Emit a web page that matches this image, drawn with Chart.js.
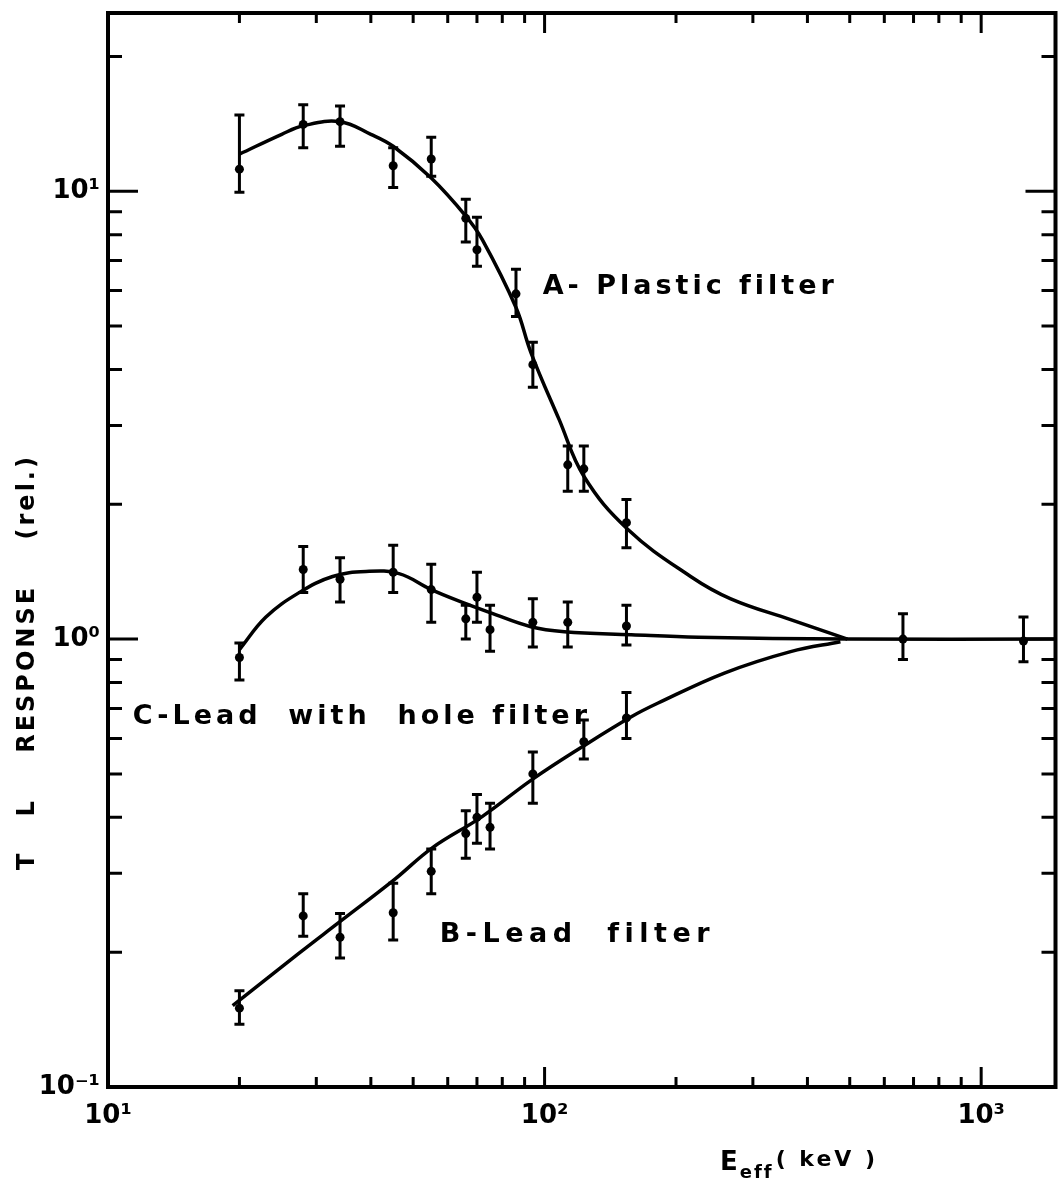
<!DOCTYPE html>
<html>
<head>
<meta charset="utf-8">
<script src="https://cdn.jsdelivr.net/npm/chart.js@4.4.1/dist/chart.umd.min.js"></script>
<style>
  html, body { margin: 0; padding: 0; background: #fff; }
  #wrap { width: 1060px; height: 1181px; position: relative; }
</style>
</head>
<body>
<div id="wrap"><canvas id="chart"></canvas></div>
<script>
// measured points, E_eff in keV, response relative
const energyA = [20, 28, 34, 45, 55, 66, 70, 86, 94, 113, 123, 154];
const respA   = [11.2, 14.1, 14.3, 11.4, 11.8, 8.7, 7.4, 5.9, 4.1, 2.45, 2.4, 1.82];
const loA     = [9.95, 12.5, 12.6, 10.2, 10.8, 7.7, 6.8, 5.25, 3.65, 2.14, 2.14, 1.6];
const hiA     = [14.8, 15.6, 15.5, 12.5, 13.2, 9.6, 8.75, 6.7, 4.6, 2.7, 2.7, 2.05];

const energyC = [20, 28, 34, 45, 55, 66, 70, 75, 94, 113, 154];
const respC   = [0.91, 1.43, 1.36, 1.41, 1.29, 1.11, 1.24, 1.05, 1.09, 1.09, 1.07];
const loC     = [0.81, 1.27, 1.21, 1.27, 1.09, 1.0, 1.09, 0.94, 0.96, 0.96, 0.97];
const hiC     = [0.98, 1.61, 1.52, 1.62, 1.47, 1.19, 1.41, 1.19, 1.23, 1.21, 1.19];

const energyB = [20, 28, 34, 45, 55, 66, 70, 75, 94, 123, 154];
const respB   = [0.150, 0.241, 0.216, 0.245, 0.303, 0.368, 0.40, 0.38, 0.50, 0.59, 0.667];
const loB     = [0.138, 0.217, 0.194, 0.213, 0.27, 0.324, 0.35, 0.34, 0.43, 0.54, 0.60];
const hiB     = [0.164, 0.27, 0.244, 0.285, 0.34, 0.414, 0.45, 0.43, 0.56, 0.66, 0.76];

// points shared by all three filters
const energyAll = [662, 1250];
const respAll   = [1.0, 0.99];
const loAll     = [0.90, 0.89];
const hiAll     = [1.14, 1.12];

// hand drawn fit curves
const curveEA = [20, 25, 28, 34, 40, 45, 55, 66, 72, 86, 93, 108, 123, 155, 216, 267, 366, 494];
const curveRA = [12.1, 13.4, 14.0, 14.3, 13.4, 12.6, 10.7, 8.8, 7.8, 5.5, 4.37, 3.09, 2.31, 1.76, 1.38, 1.23, 1.105, 1.0];
const curveEC = [20, 23, 27.4, 32.7, 39, 46.4, 55, 66, 75, 93, 111, 158, 225, 494, 1480];
const curveRC = [0.947, 1.12, 1.27, 1.38, 1.416, 1.40, 1.29, 1.20, 1.146, 1.066, 1.039, 1.023, 1.01, 1.0, 1.0];
const curveEB = [19.3, 27.4, 33.8, 45.2, 55.3, 71.8, 93.4, 122, 158, 182, 259, 366, 476];
const curveRB = [0.152, 0.199, 0.233, 0.29, 0.342, 0.401, 0.485, 0.575, 0.671, 0.72, 0.841, 0.938, 0.987];

const xTickValues = [10, 100, 1000];
const xTickLabels = ['10¹', '10²', '10³'];
const yTickValues = [0.1, 1, 10];
const yTickLabels = ['10⁻¹', '10⁰', '10¹'];

const seriesLabels = ['A- Plastic filter', 'C-Lead  with  hole filter', 'B-Lead  filter'];

function pts(xs, ys) {
  var out = [];
  for (let i = 0; i < xs.length; i++) out.push({x: xs[i], y: ys[i]});
  return out;
}

function lookup(values, labels, v) {
  for (let i = 0; i < values.length; i++) {
    if (Math.abs(values[i] - v) / values[i] < 1e-6) return labels[i];
  }
  return '';
}

function wholeTick(v) {
  var p = Math.pow(10, Math.floor(Math.log10(v) + 1e-9));
  var s = v / p;
  return Math.abs(s - Math.round(s)) < 1e-6;
}

function isDecade(v) {
  var l = Math.log10(v);
  return Math.abs(l - Math.round(l)) < 1e-6;
}

function curve(data) {
  return {
    type: 'line', data: data, borderColor: '#000', borderWidth: 3.5,
    pointRadius: 0, tension: 0.4, fill: false
  };
}

function dots(data) {
  return {
    type: 'scatter', data: data, backgroundColor: '#000', borderWidth: 0, pointRadius: 4.5
  };
}

// error bars drawn through the chart scales
const errorBars = {
  id: 'errorBars',
  afterDatasetsDraw(chart) {
    const ctx = chart.ctx, xs = chart.scales.x, ys = chart.scales.y;
    const groups = [[energyA, loA, hiA], [energyC, loC, hiC], [energyB, loB, hiB], [energyAll, loAll, hiAll]];
    ctx.save();
    ctx.strokeStyle = '#000';
    ctx.lineWidth = 3;
    groups.forEach(g => {
      for (let i = 0; i < g[0].length; i++) {
        const x = xs.getPixelForValue(g[0][i]);
        const y1 = ys.getPixelForValue(g[1][i]);
        const y2 = ys.getPixelForValue(g[2][i]);
        ctx.beginPath();
        ctx.moveTo(x, y1); ctx.lineTo(x, y2);
        ctx.moveTo(x - 5, y1); ctx.lineTo(x + 5, y1);
        ctx.moveTo(x - 5, y2); ctx.lineTo(x + 5, y2);
        ctx.stroke();
      }
    });
    ctx.restore();
  }
};

// frame, inward ticks and the text on the plot
const decorations = {
  id: 'decorations',
  afterDraw(chart) {
    const ctx = chart.ctx, a = chart.chartArea, xs = chart.scales.x, ys = chart.scales.y;
    ctx.save();
    ctx.strokeStyle = '#000';
    ctx.fillStyle = '#000';
    ctx.lineWidth = 4;
    ctx.strokeRect(a.left, a.top, a.right - a.left, a.bottom - a.top);

    ctx.lineWidth = 3;
    ctx.beginPath();
    xs.ticks.forEach(t => {
      if (!wholeTick(t.value)) return;
      const x = xs.getPixelForValue(t.value);
      if (x <= a.left + 2 || x >= a.right - 2) return;
      const len = isDecade(t.value) ? 20 : 10;
      ctx.moveTo(x, a.bottom); ctx.lineTo(x, a.bottom - len);
      ctx.moveTo(x, a.top); ctx.lineTo(x, a.top + len);
    });
    ys.ticks.forEach(t => {
      if (!wholeTick(t.value)) return;
      const y = ys.getPixelForValue(t.value);
      if (y <= a.top + 2 || y >= a.bottom - 2) return;
      const len = isDecade(t.value) ? 30 : 14;
      ctx.moveTo(a.left, y); ctx.lineTo(a.left + len, y);
      ctx.moveTo(a.right, y); ctx.lineTo(a.right - len, y);
    });
    ctx.stroke();

    // curve labels
    ctx.font = 'bold 27px "DejaVu Sans"';
    ctx.letterSpacing = '4px';
    ctx.textBaseline = 'middle';
    ctx.textAlign = 'left';
    ctx.fillText(seriesLabels[0], xs.getPixelForValue(99), ys.getPixelForValue(6.1));
    ctx.fillText(seriesLabels[1], xs.getPixelForValue(11.4), ys.getPixelForValue(0.671));
    ctx.letterSpacing = '5.5px';
    ctx.fillText(seriesLabels[2], xs.getPixelForValue(57.5), ys.getPixelForValue(0.219));

    // x axis title with subscript
    ctx.letterSpacing = '2px';
    ctx.textBaseline = 'alphabetic';
    var tx = 720, ty = 1170;
    ctx.font = 'bold 26px "DejaVu Sans"';
    ctx.fillText('E', tx, ty);
    tx += ctx.measureText('E').width;
    ctx.font = 'bold 18px "DejaVu Sans"';
    ctx.fillText('eff', tx, ty + 8);
    tx += ctx.measureText('eff').width + 2;
    ctx.font = 'bold 22px "DejaVu Sans"';
    ctx.letterSpacing = '3px';
    ctx.fillText('( keV )', tx, ty - 4);

    // y axis title
    ctx.translate(28, 662);
    ctx.rotate(-Math.PI / 2);
    ctx.textAlign = 'center';
    ctx.textBaseline = 'middle';
    ctx.font = 'bold 24px "DejaVu Sans"';
    ctx.letterSpacing = '3px';
    ctx.fillText('T   L    RESPONSE    (rel.)', 0, 0);
    ctx.restore();
  }
};

const ctx = document.getElementById('chart').getContext('2d');
new Chart(ctx, {
  data: {
    datasets: [
      curve(pts(curveEA, curveRA)),
      curve(pts(curveEC, curveRC)),
      curve(pts(curveEB, curveRB)),
      dots(pts(energyA, respA)),
      dots(pts(energyC, respC)),
      dots(pts(energyB, respB)),
      dots(pts(energyAll, respAll))
    ]
  },
  options: {
    responsive: true,
    maintainAspectRatio: false,
    animation: false,
    layout: { padding: { top: 13, right: 2, left: 0, bottom: 0 } },
    plugins: {
      legend: { display: false },
      tooltip: { enabled: false }
    },
    scales: {
      x: {
        type: 'logarithmic',
        position: 'bottom',
        min: 10,
        max: 1480,
        grid: { display: false, drawTicks: false },
        border: { display: false },
        afterFit: function(scale) {
          scale.height = 94;
          scale.paddingLeft = 0;
          scale.paddingRight = 0;
        },
        ticks: {
          autoSkip: false,
          maxRotation: 0,
          padding: 14,
          color: '#000',
          font: { family: 'DejaVu Sans', size: 26, weight: 'bold' },
          callback: function(v) { return lookup(xTickValues, xTickLabels, v); }
        }
      },
      y: {
        type: 'logarithmic',
        min: 0.1,
        max: 25,
        grid: { display: false, drawTicks: false },
        border: { display: false },
        afterFit: function(scale) {
          scale.width = 108;
          scale.paddingTop = 0;
          scale.paddingBottom = 0;
        },
        ticks: {
          autoSkip: false,
          padding: 8,
          color: '#000',
          font: { family: 'DejaVu Sans', size: 26, weight: 'bold' },
          callback: function(v) { return lookup(yTickValues, yTickLabels, v); }
        }
      }
    }
  },
  plugins: [errorBars, decorations]
});
</script>
</body>
</html>
